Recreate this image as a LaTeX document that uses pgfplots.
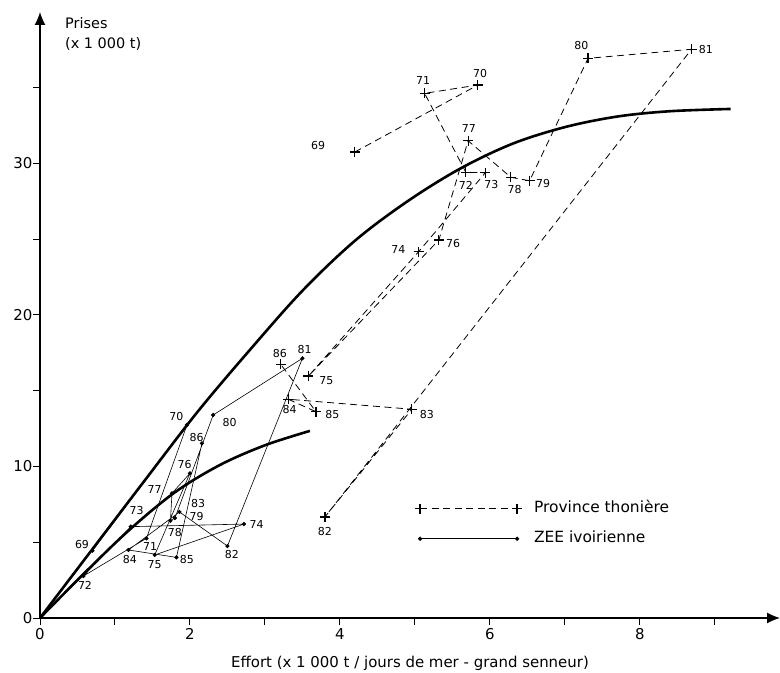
\documentclass[border=0pt]{standalone}
\usepackage{fontspec}
\setmainfont{DejaVu Sans}
\usepackage{pgfplots}
\pgfplotsset{compat=1.18}
\usetikzlibrary{arrows.meta}

\newcommand{\yr}{\fontsize{11}{13}\selectfont}

\begin{document}
\begin{tikzpicture}
\begin{axis}[
  scale only axis,
  width=740bp, height=606bp,
  xmin=0, xmax=9.87, ymin=0, ymax=40,
  axis lines=left,
  axis line style={line width=1.3bp, -{Latex[length=13bp,width=11bp]}},
  xtick={0,2,4,6,8}, minor xtick={1,3,5,7,9},
  ytick={0,10,20,30}, minor ytick={5,15,25,35},
  tick align=outside,
  major tick length=7bp, minor tick length=7bp,
  every tick/.style={black, line width=1bp},
  tick label style={font=\fontsize{15}{18}\selectfont},
  yticklabel style={xshift=3bp},
  /pgf/number format/assume math mode=true,
  xlabel={Effort (x 1 000 t / jours de mer - grand senneur)},
  xlabel style={font=\fontsize{15}{18}\selectfont, at={(axis description cs:0.5,0)}, anchor=base, yshift=-49bp},
  clip=false,
  legend cell align=left,
  legend style={draw=none, fill=none, at={(axis cs:5.0,7.69)}, anchor=north west,
    inner sep=0pt, row sep=16bp, column sep=12bp,
    nodes={inner sep=0pt, text height=11bp, text depth=3bp},
    font=\fontsize{15.5}{18}\selectfont},
  legend image code/.code={\draw[#1] plot coordinates {(0bp,0bp) (97bp,0bp)};},
]

% production curves
\addplot[line width=2.6bp, smooth, tension=0.55, forget plot] coordinates {
  (0,0) (0.7,4.55) (1.4,9.1) (2.1,13.6) (2.8,17.7) (3.5,21.6) (4.2,24.9)
  (4.9,27.5) (5.6,29.65) (6.3,31.3) (7.0,32.4) (7.7,33.1) (8.4,33.45) (9.21,33.6)};
\addplot[line width=2.6bp, smooth, tension=0.55, forget plot] coordinates {
  (0,0) (0.6,3.0) (1.2,5.85) (1.8,8.3) (2.4,10.1) (3.0,11.4) (3.6,12.35)};

% Province thoniere, 1969-1986
\addplot[dash pattern=on 7bp off 4.5bp, line width=0.8bp, mark=+, mark size=5bp,
  mark options={solid, line width=1.2bp}] coordinates {
  (4.20,30.76) (5.84,35.18) (5.13,34.63) (5.68,29.42) (5.94,29.39) (5.05,24.18)
  (3.58,15.97) (5.32,24.95) (5.71,31.50) (6.28,29.09) (6.53,28.86) (7.31,36.94)
  (8.69,37.54) (3.80,6.67) (4.96,13.78) (3.31,14.44) (3.68,13.62) (3.21,16.75)};
\addlegendentry{Province thonière}

% ZEE ivoirienne, 1969-1986
\addplot[line width=0.6bp, mark=*, mark size=1.8bp] coordinates {
  (0.70,4.44) (1.96,12.74) (1.42,5.26) (0.58,2.77) (1.21,6.03) (2.72,6.20)
  (1.53,4.16) (2.00,9.55) (1.76,8.23) (1.74,6.42) (1.80,6.60) (2.31,13.40)
  (3.50,17.14) (2.50,4.75) (1.86,7.00) (1.18,4.49) (1.82,4.00) (2.16,11.53)};
\addlegendentry{ZEE ivoirienne}

% year labels, Province thoniere
\begin{scope}[every node/.style={font=\yr, inner sep=0pt}]
\node at (axis cs:3.71,31.16) {69};
\node at (axis cs:5.87,35.95) {70};
\node at (axis cs:5.11,35.50) {71};
\node at (axis cs:5.68,28.58) {72};
\node at (axis cs:6.02,28.63) {73};
\node at (axis cs:4.78,24.34) {74};
\node at (axis cs:3.82,15.64) {75};
\node at (axis cs:5.51,24.73) {76};
\node at (axis cs:5.72,32.32) {77};
\node at (axis cs:6.33,28.25) {78};
\node at (axis cs:6.71,28.65) {79};
\node at (axis cs:7.22,37.82) {80};
\node at (axis cs:8.88,37.54) {81};
\node at (axis cs:3.80,5.74) {82};
\node at (axis cs:5.16,13.45) {83};
\node at (axis cs:3.33,13.78) {84};
\node at (axis cs:3.90,13.40) {85};
\node at (axis cs:3.20,17.43) {86};
% year labels, ZEE ivoirienne
\node at (axis cs:0.56,4.82) {69};
\node at (axis cs:1.82,13.29) {70};
\node at (axis cs:1.47,4.75) {71};
\node at (axis cs:0.60,2.18) {72};
\node at (axis cs:1.29,7.08) {73};
\node at (axis cs:2.89,6.20) {74};
\node at (axis cs:1.53,3.50) {75};
\node at (axis cs:1.93,10.10) {76};
\node at (axis cs:1.53,8.50) {77};
\node at (axis cs:1.80,5.63) {78};
\node at (axis cs:2.09,6.69) {79};
\node at (axis cs:2.53,12.92) {80};
\node at (axis cs:3.53,17.74) {81};
\node at (axis cs:2.56,4.16) {82};
\node at (axis cs:2.11,7.57) {83};
\node at (axis cs:1.20,3.87) {84};
\node at (axis cs:1.96,3.83) {85};
\node at (axis cs:2.09,11.90) {86};
\end{scope}
\end{axis}

\node[anchor=north west, align=left, inner sep=0pt, font=\fontsize{14.5}{20}\selectfont]
  at (25bp,601bp) {Prises\\(x 1 000 t)};

\pgfresetboundingbox
\path[use as bounding box] (-40bp,-55bp) rectangle (740bp,618bp);
\end{tikzpicture}
\end{document}
